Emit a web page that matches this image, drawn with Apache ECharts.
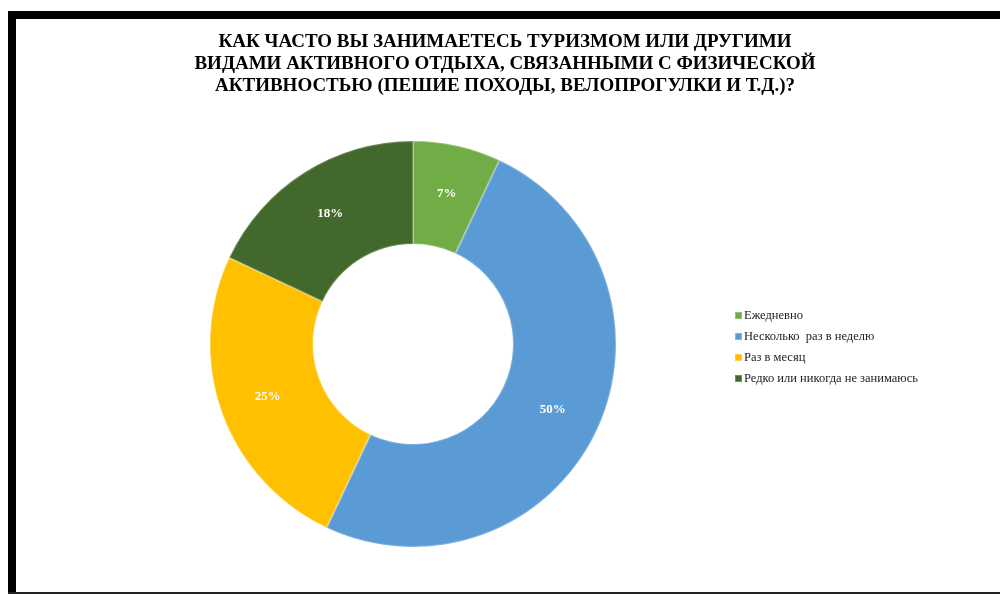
<!DOCTYPE html>
<html>
<head>
<meta charset="utf-8">
<script src="https://cdn.jsdelivr.net/npm/echarts@6/dist/echarts.min.js"></script>
<style>
html,body{margin:0;padding:0;background:#fff;}
#chart{width:1000px;height:594px;}
</style>
</head>
<body>
<div id="chart"></div>
<script>
const titleText = "КАК ЧАСТО ВЫ ЗАНИМАЕТЕСЬ ТУРИЗМОМ ИЛИ ДРУГИМИ\nВИДАМИ АКТИВНОГО ОТДЫХА, СВЯЗАННЫМИ С ФИЗИЧЕСКОЙ\nАКТИВНОСТЬЮ (ПЕШИЕ ПОХОДЫ, ВЕЛОПРОГУЛКИ И Т.Д.)?";
const categories = ["Ежедневно", "Несколько  раз в неделю", "Раз в месяц", "Редко или никогда не занимаюсь"];
const values = [7, 50, 25, 18];
const colors = ["#70AD47", "#5B9BD5", "#FFC000", "#43682B"];

const chart = echarts.init(document.getElementById('chart'));
chart.setOption({
  backgroundColor: '#ffffff',
  color: colors,
  title: {
    text: titleText,
    left: 500,
    textAlign: 'center',
    top: 26,
    textStyle: {
      fontFamily: 'Liberation Serif',
      fontWeight: 'bold',
      fontSize: 19,
      lineHeight: 22,
      color: '#000'
    }
  },
  legend: {
    orient: 'vertical',
    left: 729,
    top: 304,
    itemWidth: 7,
    itemHeight: 7,
    itemGap: 8,
    icon: 'rect',
    textStyle: {
      fontFamily: 'Liberation Serif',
      fontSize: 12.5,
      color: '#222',
      padding: [0, 0, 0, -3]
    },
    data: categories
  },
  graphic: [
    { type: 'rect', shape: { x: 8, y: 11, width: 992, height: 8 }, style: { fill: '#000' } },
    { type: 'rect', shape: { x: 8, y: 11, width: 8, height: 583 }, style: { fill: '#000' } },
    { type: 'rect', shape: { x: 8, y: 592, width: 992, height: 2 }, style: { fill: '#222' } }
  ],
  series: [{
    type: 'pie',
    center: [413, 344],
    radius: [100, 203],
    startAngle: 90,
    clockwise: true,
    avoidLabelOverlap: false,
    label: {
      show: true,
      position: 'inside',
      formatter: '{c}%',
      fontFamily: 'Liberation Serif',
      fontWeight: 'bold',
      fontSize: 13,
      color: '#fff'
    },
    labelLine: { show: false },
    itemStyle: {
      borderColor: 'rgba(255,255,255,0.25)',
      borderWidth: 2
    },
    emphasis: { disabled: true },
    data: categories.map((c, i) => ({ name: c, value: values[i] }))
  }]
});
</script>
</body>
</html>
